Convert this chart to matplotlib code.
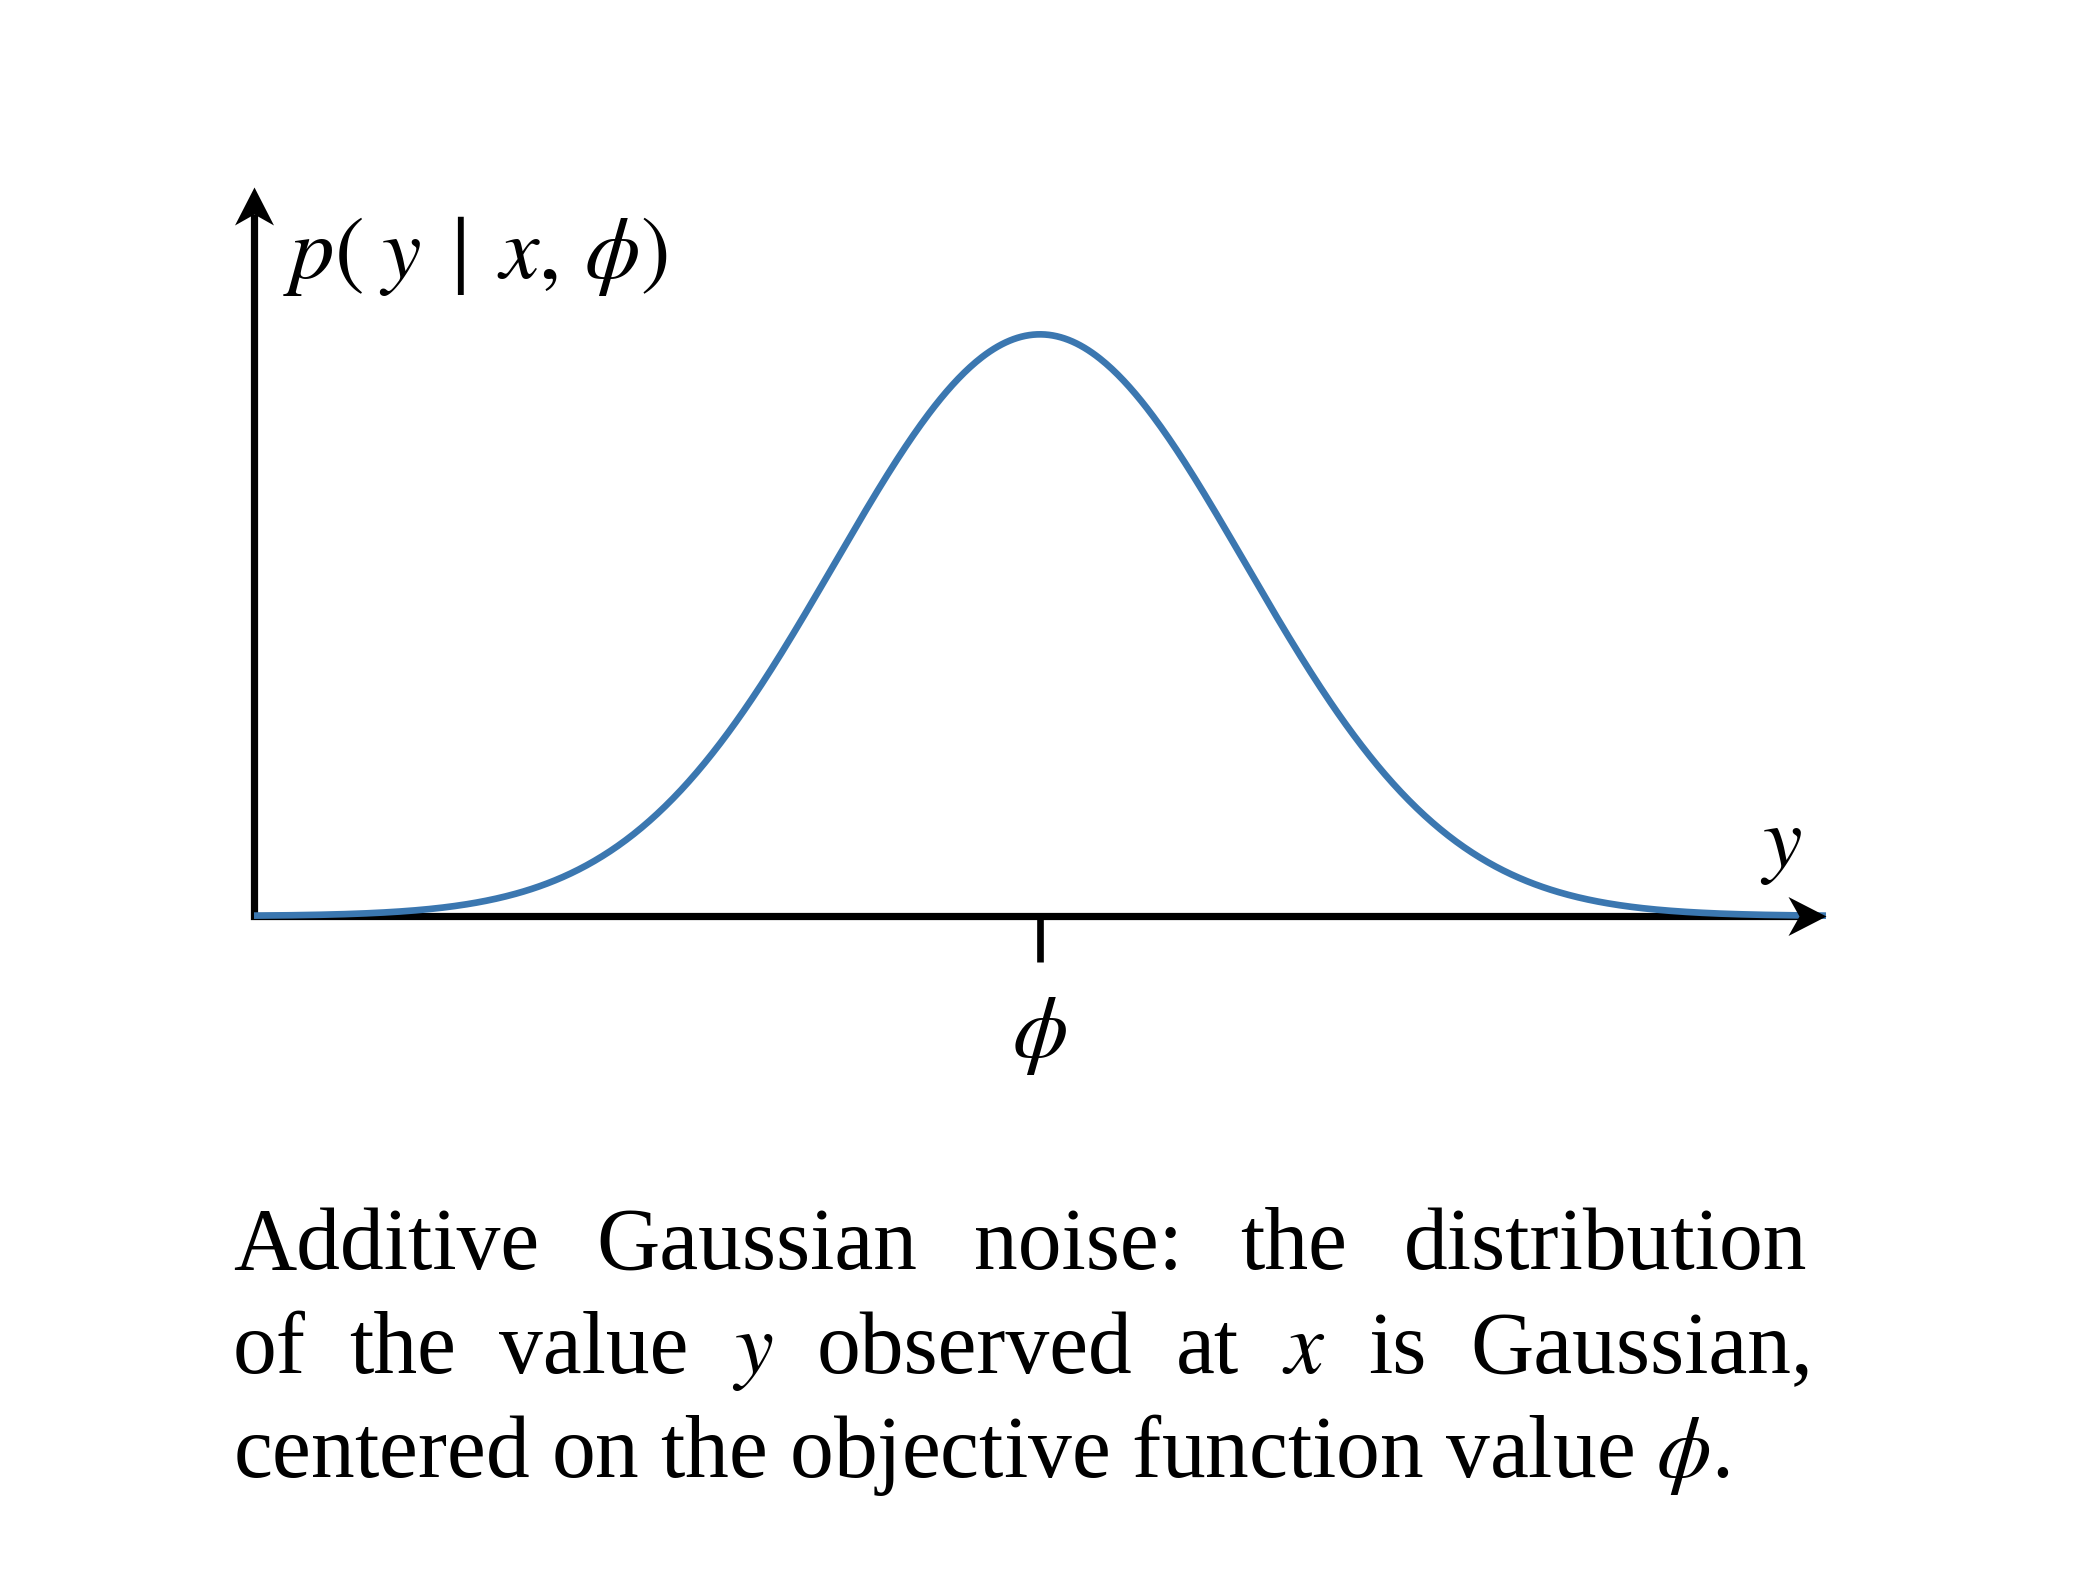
import numpy as np
import matplotlib
matplotlib.use("Agg")
import matplotlib.pyplot as plt
from matplotlib.path import Path

# --- data: the noise model shown in the sketch ---
mu = 0.0          # objective function value phi
sigma = 1.0       # noise scale
y_range = (-3.83, 3.83)
y_top = 0.5       # top of the density axis

caption_lines = [
    ["Additive", "Gaussian", "noise:", "the", "distribution"],
    ["of", "the", "value", "$y$", "observed", "at", "$x$", "is", "Gaussian,"],
    "centered on the objective function value $\\phi$.",
]

W, H = 2098, 1596
plt.rcParams["mathtext.fontset"] = "stix"
plt.rcParams["font.family"] = ["Liberation Serif", "DejaVu Serif"]

fig = plt.figure(figsize=(W / 200, H / 200), dpi=200)

def px(x, y):
    # image pixels (top-left origin) -> figure fraction
    return x / W, 1 - y / H

# axes box: x axis at row 916, from col 254 to arrow tip at 1826, y arrow tip at row 187
x0, y0 = px(254, 916)
x1, y1 = px(1826, 187)
ax = fig.add_axes([x0, y0, x1 - x0, y1 - y0])
ax.set_xlim(*y_range)
ax.set_ylim(0, y_top)
ax.axis("off")

blue = "#3b77b0"
ys = np.linspace(y_range[0], y_range[1], 800)
dens = np.exp(-0.5 * ((ys - mu) / sigma) ** 2) / (sigma * np.sqrt(2 * np.pi))
ax.plot(ys, dens, color=blue, lw=2.4, zorder=5, clip_on=False, solid_capstyle="butt")

# axis lines with stealth-like arrowheads
lw = 2.6
notch_x = 27 / (1826 - 254)
notch_y = 27 / (916 - 187)
ax.plot([0, 0, 1 - notch_x], [1 - notch_y, 0, 0], color="black", lw=lw,
        transform=ax.transAxes, clip_on=False, solid_joinstyle="miter",
        solid_capstyle="butt", zorder=3)

head_r = Path([(0, 0), (-38, 19.5), (-27, 0), (-38, -19.5), (0, 0)],
              [Path.MOVETO, Path.LINETO, Path.LINETO, Path.LINETO, Path.CLOSEPOLY])
head_u = Path([(0, 0), (-19.5, -38), (0, -27), (19.5, -38), (0, 0)],
              [Path.MOVETO, Path.LINETO, Path.LINETO, Path.LINETO, Path.CLOSEPOLY])
ms = 2 * 38 * 72 / 200
ax.plot([1], [0], marker=head_r, ms=ms, mew=0, color="black",
        transform=ax.transAxes, clip_on=False, zorder=6)
ax.plot([0], [1], marker=head_u, ms=ms, mew=0, color="black",
        transform=ax.transAxes, clip_on=False, zorder=6)

# tick at phi
tick_len = y_top * 46 / (916 - 187)
ax.plot([mu, mu], [0, -tick_len], color="black", lw=2.4, clip_on=False,
        solid_capstyle="butt", zorder=3)

fs = 32
fig.text(*px(283, 278), r"$p(\;y\:\mid\:x,\,\phi)$", fontsize=fs, ha="left", va="baseline")
fig.text(*px(1781, 867), r"$y$", fontsize=fs, ha="center", va="baseline")
fig.text(*px(1039, 1036), r"$\phi$", fontsize=fs, ha="center", va="center")

# caption, first two lines justified
cap_fs = 31.5
left, right = 233, 1807
baselines = [1269, 1373, 1477]
fig.canvas.draw()
rend = fig.canvas.get_renderer()
for line, base in zip(caption_lines, baselines):
    if isinstance(line, str):
        fig.text(*px(left, base), line, fontsize=cap_fs, ha="left", va="baseline")
        continue
    texts = [fig.text(0, 0, w, fontsize=cap_fs, ha="left", va="baseline") for w in line]
    widths = [t.get_window_extent(rend).width for t in texts]
    edge = right + (6 if line[-1].endswith(",") else 0)
    gap = (edge - left - sum(widths)) / (len(line) - 1)
    xpos = left
    for t, w in zip(texts, widths):
        t.set_position(px(xpos, base))
        xpos += w + gap

fig.savefig("out.png", dpi=200)
